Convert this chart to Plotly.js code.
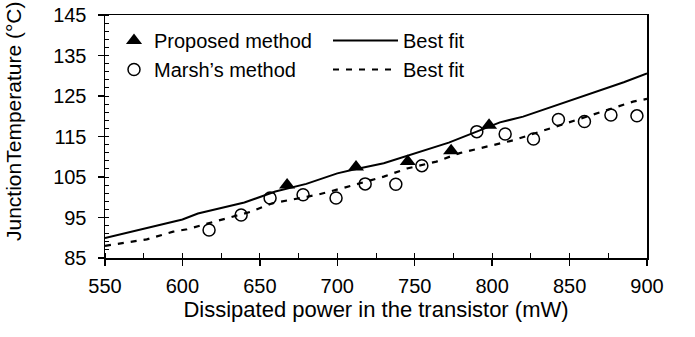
<!DOCTYPE html>
<html>
<head>
<meta charset="utf-8">
<script src="https://cdn.plot.ly/plotly-3.0.1.min.js"></script>
<style>html,body{margin:0;padding:0;background:#fff;}#chart{width:695px;height:337px;}</style>
</head>
<body>
<div id="chart"></div>
<script>
// Proposed method (measured points)
const proposedX = [667.6, 712.1, 745.5, 773.5, 798.0];
const proposedY = [103.0, 107.5, 108.8, 111.5, 117.8];
// Marsh's method (measured points)
const marshX = [617.2, 637.9, 656.6, 677.9, 699.2, 718.0, 737.8, 754.6, 790.1, 808.4, 826.7, 842.8, 859.6, 876.7, 893.5];
const marshY = [91.9, 95.6, 99.8, 100.6, 99.8, 103.3, 103.2, 107.8, 116.2, 115.6, 114.4, 119.2, 118.7, 120.3, 120.1];
// Best fit for proposed method (solid)
const fitPropX = [550, 575, 600, 610, 625, 640, 660, 680, 700, 710, 730, 755, 772, 790, 805, 820, 842, 863, 885, 900];
const fitPropY = [89.9, 92.2, 94.5, 96.0, 97.4, 98.7, 101.4, 103.3, 105.9, 106.8, 108.4, 111.4, 113.5, 116.2, 118.5, 119.9, 122.8, 125.5, 128.4, 130.6];
// Best fit for Marsh's method (dashed)
const fitMarshX = [550, 577, 594, 603, 618, 644, 658, 670, 687, 704, 730, 745, 764, 779, 797, 814, 831, 848, 865, 891, 900];
const fitMarshY = [88.0, 89.6, 91.5, 92.1, 93.7, 96.4, 98.5, 99.3, 100.6, 102.3, 105.1, 107.1, 108.8, 110.9, 112.5, 114.1, 116.2, 118.3, 120.3, 123.6, 124.3];

const xTicks = [550, 600, 650, 700, 750, 800, 850, 900];
const yTicks = [85, 95, 105, 115, 125, 135, 145];

const FONT = '"Liberation Sans", Arial, sans-serif';

const traces = [
  {x: fitPropX, y: fitPropY, mode: 'lines', name: 'Best fit', legend: 'legend2', legendgroup: 'a',
   line: {color: '#000', width: 2}},
  {x: fitMarshX, y: fitMarshY, mode: 'lines', name: 'Best fit', legend: 'legend2', legendgroup: 'b',
   line: {color: '#000', width: 2.2, dash: '6px,7px'}},
  {x: proposedX, y: proposedY, mode: 'markers', name: 'Proposed method', legend: 'legend', legendgroup: 'c',
   marker: {symbol: 'triangle-up', size: 14, color: '#000'}},
  {x: marshX, y: marshY, mode: 'markers', name: 'Marsh\u2019s method', legend: 'legend', legendgroup: 'd',
   marker: {symbol: 'circle-open', size: 12, color: '#000', line: {width: 1.5, color: '#000'}}}
];

const axisCommon = {
  showgrid: false, zeroline: false, showline: true, mirror: true,
  linecolor: '#000', linewidth: 1.5,
  ticks: 'outside', ticklen: 6, tickwidth: 1.5, tickcolor: '#000',
  tickfont: {family: FONT, size: 20, color: '#000'}
};

const layout = {
  width: 695, height: 337,
  margin: {l: 105, r: 48, t: 15, b: 79},
  paper_bgcolor: '#fff', plot_bgcolor: '#fff',
  font: {family: FONT, color: '#000'},
  showlegend: true,
  xaxis: Object.assign({}, axisCommon, {
    range: [550, 900], tickvals: xTicks, ticktext: xTicks.map(String),
    ticklabelstandoff: 3,
    minor: {dtick: 25, tick0: 550, ticks: 'inside', ticklen: 5, tickwidth: 1, tickcolor: '#000'},
    title: {text: 'Dissipated power in the transistor (mW)', font: {family: FONT, size: 22, color: '#000'}, standoff: 6}
  }),
  yaxis: Object.assign({}, axisCommon, {
    range: [85, 145], tickvals: yTicks, ticktext: yTicks.map(String),
    ticklabelstandoff: 7,
    minor: {dtick: 2, tick0: 85, ticks: 'inside', ticklen: 4, tickwidth: 1, tickcolor: '#000'}
  }),
  legend: {x: (114 - 105) / 542, y: (258 - 21) / 243, xanchor: 'left', yanchor: 'top', xref: 'paper', yref: 'paper',
    bgcolor: 'rgba(0,0,0,0)', borderwidth: 0, traceorder: 'grouped', tracegroupgap: 0,
    font: {family: FONT, size: 20, color: '#000'}},
  legend2: {x: (328 - 105) / 542, y: (258 - 21) / 243, xanchor: 'left', yanchor: 'top', xref: 'paper', yref: 'paper',
    bgcolor: 'rgba(0,0,0,0)', borderwidth: 0, traceorder: 'grouped', tracegroupgap: 0, itemwidth: 65,
    font: {family: FONT, size: 20, color: '#000'}},
  annotations: [{
    text: 'JunctionTemperature (\u00B0C)', textangle: -90, showarrow: false,
    xref: 'paper', yref: 'paper', x: (13 - 105) / 542, y: (258 - 121) / 243,
    xanchor: 'center', yanchor: 'middle',
    font: {family: FONT, size: 21, color: '#000'}
  }]
};

Plotly.newPlot('chart', traces, layout, {displayModeBar: false, staticPlot: true});
</script>
</body>
</html>
